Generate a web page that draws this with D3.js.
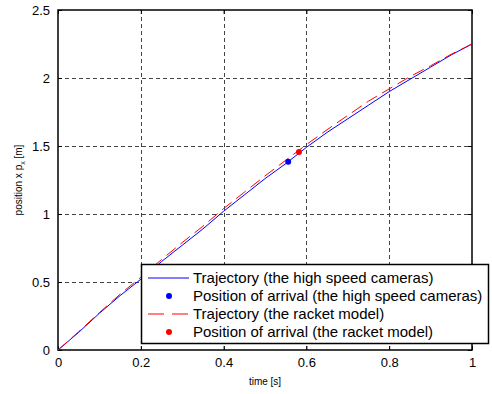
<!DOCTYPE html>
<html>
<head>
<meta charset="utf-8">
<script src="https://cdn.jsdelivr.net/npm/d3@7"></script>
<style>
  body { margin: 0; background: #fff; }
  svg { display: block; }
</style>
</head>
<body>
<div id="chart"></div>
<script>
const width = 492;
const height = 394;
const margin = { top: 10, right: 20, bottom: 44, left: 58 };

// time samples [s]
const times = [0, 0.05, 0.1, 0.15, 0.2, 0.25, 0.3, 0.35, 0.4, 0.45, 0.5,
    0.55, 0.6, 0.65, 0.7, 0.75, 0.8, 0.85, 0.9, 0.95, 1.0];
// trajectory from the high speed cameras [m]
const cameraPos = [0, 0.13, 0.27, 0.40, 0.52, 0.65, 0.77, 0.89, 1.02, 1.14, 1.26,
    1.37, 1.49, 1.60, 1.70, 1.80, 1.90, 1.99, 2.08, 2.17, 2.25];
// trajectory from the racket model [m]
const modelPos = [0, 0.135, 0.275, 0.41, 0.535, 0.665, 0.79, 0.91, 1.04, 1.16, 1.28,
    1.395, 1.51, 1.62, 1.725, 1.83, 1.92, 2.01, 2.09, 2.175, 2.25];
// positions of arrival [t, x]
const cameraArrival = [0.556, 1.385];
const modelArrival = [0.582, 1.456];

const xTicks = [0, 0.2, 0.4, 0.6, 0.8, 1];
const yTicks = [0, 0.5, 1, 1.5, 2, 2.5];
const legendLabels = [
    "Trajectory (the high speed cameras)",
    "Position of arrival (the high speed cameras)",
    "Trajectory (the racket model)",
    "Position of arrival (the racket model)"
];

const font = "'Liberation Sans', Arial, sans-serif";

const svg = d3.select("#chart").append("svg")
    .attr("width", width)
    .attr("height", height);

const x = d3.scaleLinear().domain([0, 1]).range([margin.left, width - margin.right - 0]);
const y = d3.scaleLinear().domain([0, 2.5]).range([height - margin.bottom, margin.top]);
const x0 = x.range()[0], x1 = x.range()[1];
const y0 = y.range()[0], y1 = y.range()[1];

// grid
const grid = svg.append("g").attr("stroke", "#444").attr("stroke-dasharray", "4,3").attr("stroke-width", 1);
grid.selectAll(".gx").data(xTicks.slice(1, -1)).enter().append("line")
    .attr("x1", (d) => Math.round(x(d)) + 0.5).attr("x2", (d) => Math.round(x(d)) + 0.5)
    .attr("y1", y1).attr("y2", y0);
grid.selectAll(".gy").data(yTicks.slice(1, -1)).enter().append("line")
    .attr("y1", (d) => Math.round(y(d)) + 0.5).attr("y2", (d) => Math.round(y(d)) + 0.5)
    .attr("x1", x0).attr("x2", x1);

// axes with inward ticks
const axB = svg.append("g").attr("transform", `translate(0,${y0})`)
    .call(d3.axisBottom(x).tickValues(xTicks).tickSize(-4).tickPadding(8).tickFormat(d3.format("")));
const axT = svg.append("g").attr("transform", `translate(0,${y1})`)
    .call(d3.axisTop(x).tickValues(xTicks).tickSize(-4).tickFormat(""));
const axL = svg.append("g").attr("transform", `translate(${x0},0)`)
    .call(d3.axisLeft(y).tickValues(yTicks).tickSize(-4).tickPadding(8).tickFormat(d3.format("")));
const axR = svg.append("g").attr("transform", `translate(${x1},0)`)
    .call(d3.axisRight(y).tickValues(yTicks).tickSize(-4).tickFormat(""));
[axB, axT, axL, axR].forEach((a) => {
    a.select(".domain").remove();
    a.selectAll("line").attr("stroke", "#000");
    a.selectAll("text").attr("font-family", font).attr("font-size", 13).attr("fill", "#000");
});

// box
svg.append("rect")
    .attr("x", x0).attr("y", y1)
    .attr("width", x1 - x0).attr("height", y0 - y1)
    .attr("fill", "none").attr("stroke", "#000").attr("stroke-width", 1.5);

// lines
const line = d3.line().x((d) => x(d[0])).y((d) => y(d[1]));
svg.append("path")
    .datum(times.map((t, i) => [t, cameraPos[i]]))
    .attr("d", line).attr("fill", "none").attr("stroke", "#0000ff").attr("stroke-width", 1);
svg.append("path")
    .datum(times.map((t, i) => [t, modelPos[i]]))
    .attr("d", line).attr("fill", "none").attr("stroke", "#ff0000").attr("stroke-width", 1)
    .attr("stroke-dasharray", "12,6");

svg.append("circle").attr("cx", x(cameraArrival[0])).attr("cy", y(cameraArrival[1]))
    .attr("r", 3).attr("fill", "#0000ff");
svg.append("circle").attr("cx", x(modelArrival[0])).attr("cy", y(modelArrival[1]))
    .attr("r", 3).attr("fill", "#ff0000");

// axis labels
svg.append("text")
    .attr("x", (x0 + x1) / 2).attr("y", 385)
    .attr("text-anchor", "middle")
    .attr("font-family", font).attr("font-size", 10)
    .text("time [s]");
const yl = svg.append("text")
    .attr("transform", `translate(22,${(y0 + y1) / 2}) rotate(-90)`)
    .attr("text-anchor", "middle")
    .attr("font-family", font).attr("font-size", 10);
yl.append("tspan").text("position x p");
yl.append("tspan").attr("font-size", 7).attr("dy", 3).text("x");
yl.append("tspan").attr("dy", -3).text(" [m]");

// legend
const lg = svg.append("g");
lg.append("rect")
    .attr("x", 141.5).attr("y", 264.5).attr("width", 347).attr("height", 79)
    .attr("fill", "#fff").attr("stroke", "#000").attr("stroke-width", 1.5);
const rowY = [278, 296, 314, 332];
legendLabels.forEach((label, i) => {
    const yy = rowY[i];
    const color = i < 2 ? "#0000ff" : "#ff0000";
    if (i % 2 === 0) {
        lg.append("line").attr("x1", 148).attr("x2", 189).attr("y1", yy).attr("y2", yy)
            .attr("stroke", color).attr("stroke-width", 1)
            .attr("stroke-dasharray", i === 2 ? "16,8" : null);
    } else {
        lg.append("circle").attr("cx", 169).attr("cy", yy).attr("r", 3).attr("fill", color);
    }
    lg.append("text").attr("x", 193).attr("y", yy + 5)
        .attr("font-family", font).attr("font-size", 15).attr("fill", "#000")
        .text(label);
});
</script>
</body>
</html>
